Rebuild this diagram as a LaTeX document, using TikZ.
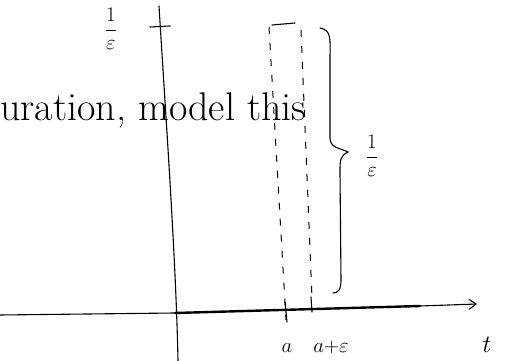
\documentclass[tikz,border=0pt]{standalone}
\usepackage{amsmath}
\usepackage{amssymb}
\usetikzlibrary{arrows.meta,decorations.pathreplacing}

\begin{document}
\begin{tikzpicture}[x=1pt,y=-1pt,
  pen/.style={line width=1.1pt,line cap=round},
  heavy/.style={line width=2.4pt,line cap=round},
  guide/.style={line width=1pt,dash pattern=on 7pt off 9pt},
  lbl/.style={inner sep=0pt,font=\fontsize{20}{24}\selectfont}]
  \useasboundingbox (0,0) rectangle (507,361);

  % Achsen
  \coordinate (vtop) at (159,6);
  \coordinate (vbot) at (178,361);
  \draw[pen] (vtop) .. controls (166,120) and (176,260) .. (vbot);
  \coordinate (hleft) at (0,315);
  \coordinate (orig) at (175,313);
  \coordinate (hend) at (477,304);
  \draw[pen] (hleft) -- (orig);
  \draw[heavy] (orig) -- (420,306);
  \draw[pen,-{Straight Barb[length=7pt,width=10pt]}] (420,306) -- (hend);

  % Marke 1/eps auf der Hochachse
  \draw[pen] (150,27) -- (170,26);
  \node[lbl] (ylab) at (111,29) {$\dfrac{1}{\varepsilon}$};

  % Puls zwischen a und a+eps
  \coordinate (ltop) at (269,27);
  \coordinate (lbot) at (286,320);
  \coordinate (rtop) at (301,30);
  \coordinate (rbot) at (312,298);
  \draw[guide] (ltop) -- (lbot);
  \draw[guide] (rtop) -- (rbot);
  \draw[pen] (272,25) -- (295,23);
  \draw[pen] (285,302) -- (287,322);
  \draw[pen] (311,297) -- (312,312);

  % Klammer mit Hoehe 1/eps
  \draw[pen] (320,28) .. controls (332,30) and (330,40) .. (330,60)
    -- (330,138) .. controls (330,148) and (340,148) .. (348,152)
    .. controls (340,156) and (340,160) .. (340,172)
    -- (341,280) .. controls (341,290) and (338,293) .. (333,293);
  \node[lbl] (hlab) at (372,156) {$\dfrac{1}{\varepsilon}$};

  % Beschriftungen
  \node[lbl,anchor=base] (alab) at (287,352) {$a$};
  \node[lbl,anchor=base] (aelab) at (331,352) {$a{+}\varepsilon$};
  \node[lbl,anchor=base,font=\fontsize{28}{32}\selectfont] (tlab) at (487,352) {$t$};
  \node[inner sep=0pt,anchor=base west,font=\fontsize{40}{46}\selectfont]
    (note) at (0,121) {uration, model this};
\end{tikzpicture}
\end{document}
